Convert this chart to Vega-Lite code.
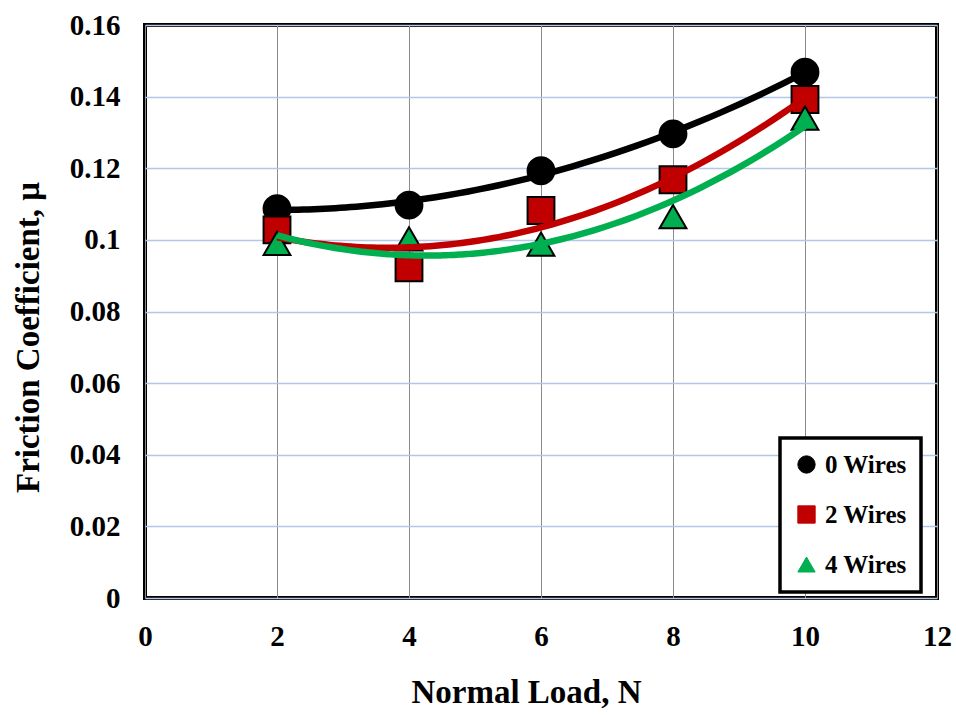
{
  "$schema": "https://vega.github.io/schema/vega-lite/v6.json",
  "autosize": "none",
  "width": 792,
  "height": 573,
  "padding": {"left": 145, "top": 25, "right": 19, "bottom": 117},
  "background": "white",
  "config": {
    "font": "Liberation Serif",
    "view": {"stroke": "black", "strokeWidth": 4},
    "axis": {"labelFont": "Liberation Serif", "titleFont": "Liberation Serif", "labelColor": "black", "titleColor": "black", "labelFontWeight": "bold", "titleFontWeight": "bold", "domain": false, "ticks": false, "labelFlush": false},
    "legend": {"strokeWidth": 3.5}
  },
  "data": {"values": [
    {"load": 2, "mu": 0.1087, "series": "0 Wires"},
    {"load": 4, "mu": 0.1097, "series": "0 Wires"},
    {"load": 6, "mu": 0.1193, "series": "0 Wires"},
    {"load": 8, "mu": 0.1296, "series": "0 Wires"},
    {"load": 10, "mu": 0.1468, "series": "0 Wires"},
    {"load": 2, "mu": 0.1028, "series": "2 Wires"},
    {"load": 4, "mu": 0.0922, "series": "2 Wires"},
    {"load": 6, "mu": 0.1082, "series": "2 Wires"},
    {"load": 8, "mu": 0.1168, "series": "2 Wires"},
    {"load": 10, "mu": 0.1392, "series": "2 Wires"},
    {"load": 2, "mu": 0.0990, "series": "4 Wires"},
    {"load": 4, "mu": 0.1003, "series": "4 Wires"},
    {"load": 6, "mu": 0.0988, "series": "4 Wires"},
    {"load": 8, "mu": 0.1065, "series": "4 Wires"},
    {"load": 10, "mu": 0.1340, "series": "4 Wires"}
  ]},
  "layer": [
    {
      "mark": {"type": "point", "filled": true, "stroke": "black", "strokeWidth": 2, "size": 720, "opacity": 1},
      "encoding": {
        "x": {"field": "load", "type": "quantitative",
              "scale": {"domain": [0, 12], "nice": false},
              "axis": {"values": [0, 2, 4, 6, 8, 10, 12], "format": "~g", "title": "Normal Load, N", "labelFontSize": 29, "titleFontSize": 33, "labelPadding": 24, "titleX": 381, "titleY": 94, "titleBaseline": "middle", "gridColor": "#8c8c8c", "gridWidth": 1}},
        "y": {"field": "mu", "type": "quantitative",
              "scale": {"domain": [0, 0.16], "nice": false},
              "axis": {"values": [0, 0.02, 0.04, 0.06, 0.08, 0.1, 0.12, 0.14, 0.16], "format": "~g", "title": "Friction Coefficient, μ", "labelFontSize": 29, "titleFontSize": 33, "labelPadding": 25, "titleX": -117, "titleY": 312, "titleBaseline": "middle", "gridColor": "#b4c7e7", "gridWidth": 1.5}},
        "fill": {"field": "series", "type": "nominal",
                 "scale": {"domain": ["0 Wires", "2 Wires", "4 Wires"], "range": ["#000000", "#c00000", "#00b050"]},
                 "legend": {"title": null, "orient": "none", "legendX": 635, "legendY": 413,
                            "labelFontSize": 25, "labelFontWeight": "bold", "labelFont": "Liberation Serif", "labelColor": "black",
                            "symbolSize": 300, "symbolStrokeColor": "black", "symbolStrokeWidth": 1,
                            "rowPadding": 24, "padding": 14, "strokeColor": "black", "fillColor": "white", "labelOffset": 6,
                            "encode": {"legend": {"update": {"strokeWidth": {"value": 3.5}}}}}},
        "shape": {"field": "series", "type": "nominal",
                  "scale": {"domain": ["0 Wires", "2 Wires", "4 Wires"], "range": ["circle", "square", "triangle-up"]}}
      }
    },
    {
      "transform": [{"regression": "mu", "on": "load", "groupby": ["series"], "method": "poly", "order": 2, "extent": [2, 10]}],
      "mark": {"type": "line", "strokeWidth": 6.5, "interpolate": "monotone"},
      "encoding": {
        "x": {"field": "load", "type": "quantitative"},
        "y": {"field": "mu", "type": "quantitative"},
        "stroke": {"field": "series", "type": "nominal",
                   "scale": {"domain": ["0 Wires", "2 Wires", "4 Wires"], "range": ["#000000", "#c00000", "#00b050"]},
                   "legend": null}
      }
    }
  ]
}
